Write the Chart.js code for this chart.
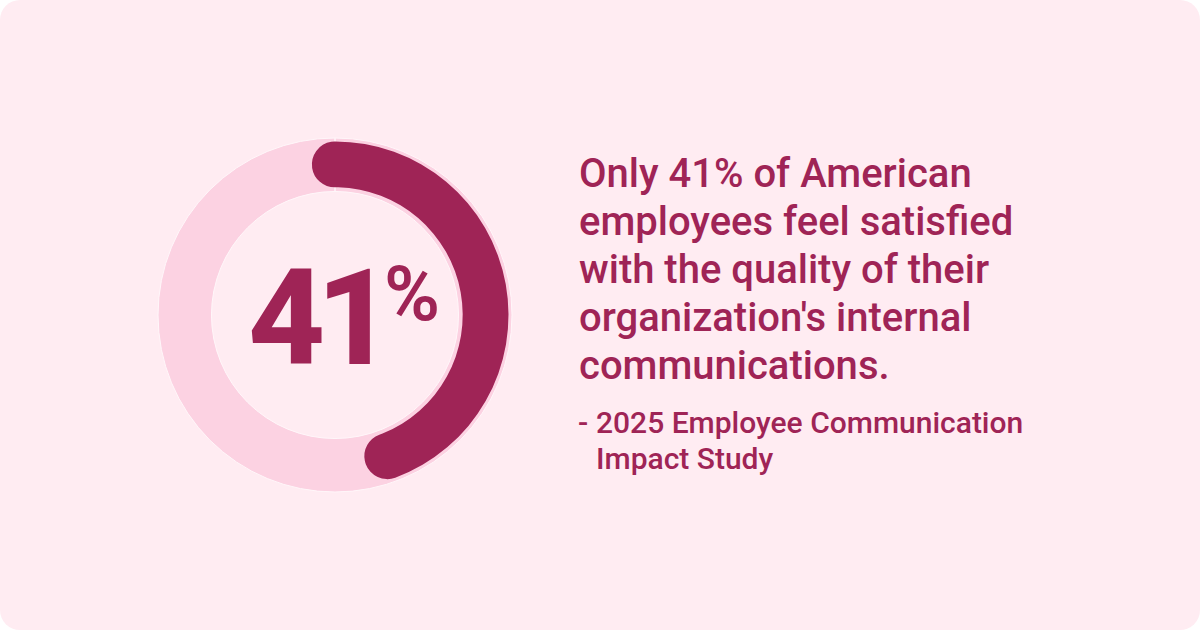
<!DOCTYPE html>
<html>
<head>
<meta charset="utf-8">
<script src="https://cdn.jsdelivr.net/npm/chart.js@4"></script>
<style>
    html, body { margin: 0; padding: 0; background: #ffffff; }
    #card { position: absolute; left: 0; top: 0; width: 1200px; height: 630px; background: #ffecf2; border-radius: 20px; overflow: hidden; font-family: Roboto, sans-serif; color: #9f2456; }
    .ring { position: absolute; left: 135px; top: 115px; width: 400px; height: 400px; }
    #big { position: absolute; left: 248px; top: 244px; font-size: 134px; font-weight: 800; line-height: 150px; letter-spacing: -9px; }
    #pct { position: absolute; left: 384px; top: 252px; font-size: 76px; font-weight: 600; line-height: 84px; }
    #headline { position: absolute; left: 579px; top: 150px; font-size: 40px; font-weight: 500; line-height: 48px; white-space: nowrap; }
    #source { position: absolute; left: 596px; top: 405px; font-size: 30px; font-weight: 500; line-height: 36px; white-space: nowrap; }
    #dash { position: absolute; left: 578px; top: 405px; font-size: 30px; font-weight: 500; line-height: 36px; }
</style>
</head>
<body>
<div id="card">
    <canvas id="trackChart" class="ring" width="400" height="400"></canvas>
    <canvas id="valueChart" class="ring" width="400" height="400"></canvas>
    <div id="big"></div>
    <div id="pct"></div>
    <div id="headline"></div>
    <div id="dash"></div>
    <div id="source"></div>
</div>
<script>
const categories = ['Satisfied', 'Not satisfied'];
const satisfaction = [41, 59];
const track = [100];
const bigLabel = '41';
const pctLabel = '%';
const headlineLines = ['Only 41% of American', 'employees feel satisfied', 'with the quality of their', "organization's internal", 'communications.'];
const sourceLines = ['2025 Employee Communication', 'Impact Study'];

document.getElementById('big').textContent = bigLabel;
document.getElementById('pct').textContent = pctLabel;
document.getElementById('dash').textContent = '-';
document.getElementById('headline').innerHTML = headlineLines.join('<br>');
document.getElementById('source').innerHTML = sourceLines.join('<br>');

Chart.defaults.animation = false;
Chart.defaults.responsive = false;
Chart.defaults.devicePixelRatio = 1;

new Chart(document.getElementById('trackChart'), {
    type: 'doughnut',
    data: {
        labels: ['Track'],
        datasets: [{
            data: track,
            backgroundColor: '#fcd2e2',
            borderColor: '#fff6f9',
            borderWidth: 1
        }]
    },
    options: {
        radius: 177,
        cutout: '69.8%',
        plugins: { legend: { display: false }, tooltip: { enabled: false } }
    }
});

// the drawn arc runs longer than a true 41% share, so the sweep is stretched to fit
new Chart(document.getElementById('valueChart'), {
    type: 'doughnut',
    data: {
        labels: categories,
        datasets: [{
            data: satisfaction,
            backgroundColor: ['#9f2456', 'rgba(0,0,0,0)'],
            borderWidth: 0,
            borderRadius: [23, 0]
        }]
    },
    options: {
        radius: 173.5,
        cutout: '73.6%',
        rotation: -8.8,
        circumference: 432.2,
        plugins: { legend: { display: false }, tooltip: { enabled: false } }
    }
});
</script>
</body>
</html>
